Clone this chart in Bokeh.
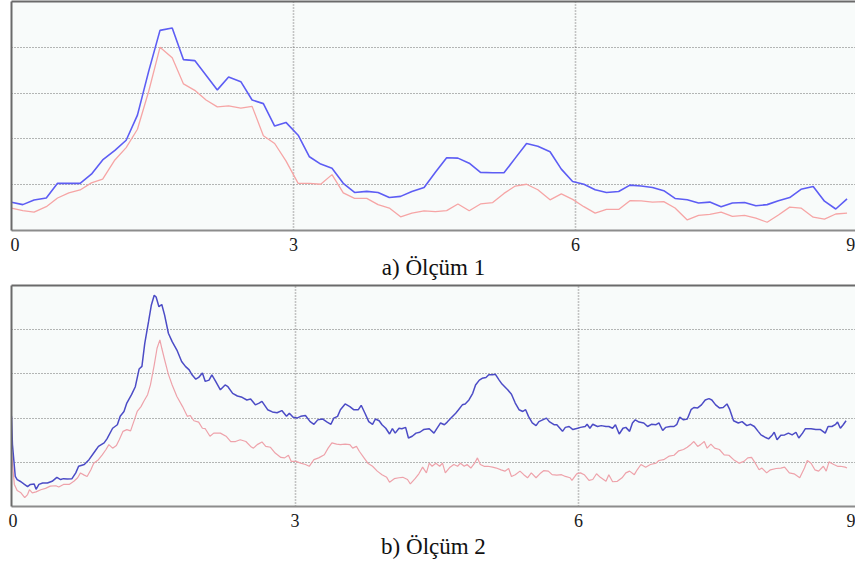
from bokeh.plotting import figure
from bokeh.layouts import column
from bokeh.models import Range1d, FixedTicker, LinearAxis
from bokeh.embed import file_html
from bokeh.resources import INLINE

# ---------------- data: panel a (Ölçüm 1) ----------------
t_a = [0.00, 0.12, 0.24, 0.37, 0.49, 0.61, 0.73, 0.85, 0.97, 1.10,
       1.22, 1.34, 1.46, 1.58, 1.71, 1.83, 1.95, 2.07, 2.19, 2.31,
       2.44, 2.56, 2.68, 2.80, 2.92, 3.05, 3.17, 3.29, 3.41, 3.53,
       3.65, 3.78, 3.90, 4.02, 4.14, 4.26, 4.39, 4.51, 4.63, 4.75,
       4.87, 4.99, 5.12, 5.24, 5.36, 5.48, 5.60, 5.73, 5.85, 5.97,
       6.09, 6.21, 6.33, 6.46, 6.58, 6.70, 6.82, 6.94, 7.06, 7.19,
       7.31, 7.43, 7.55, 7.67, 7.80, 7.92, 8.04, 8.16, 8.28, 8.40,
       8.53, 8.65, 8.77, 8.89]
blue_a = [0.615, 0.565, 0.667, 0.71, 1.03, 1.03, 1.03, 1.23, 1.54, 1.75,
          1.97, 2.52, 3.48, 4.37, 4.42, 3.73, 3.71, 3.39, 3.07, 3.35,
          3.25, 2.85, 2.77, 2.28, 2.36, 2.08, 1.61, 1.45, 1.36, 1.03,
          0.83, 0.855, 0.83, 0.72, 0.745, 0.85, 0.94, 1.27, 1.59, 1.58,
          1.47, 1.27, 1.26, 1.26, 1.58, 1.90, 1.84, 1.72, 1.34, 1.07,
          1.01, 0.89, 0.83, 0.85, 0.99, 0.97, 0.94, 0.87, 0.70, 0.67,
          0.60, 0.62, 0.52, 0.60, 0.61, 0.54, 0.565, 0.65, 0.72, 0.90,
          0.96, 0.64, 0.47, 0.69]
pink_a = [0.49, 0.435, 0.40, 0.52, 0.71, 0.82, 0.885, 1.04, 1.12, 1.54,
          1.81, 2.21, 3.04, 4.00, 3.77, 3.20, 3.06, 2.85, 2.70, 2.72,
          2.67, 2.71, 2.07, 1.90, 1.52, 1.03, 1.03, 1.01, 1.22, 0.82,
          0.70, 0.70, 0.565, 0.49, 0.30, 0.38, 0.43, 0.41, 0.435, 0.58,
          0.43, 0.58, 0.61, 0.81, 0.97, 1.01, 0.89, 0.67, 0.80, 0.68,
          0.52, 0.38, 0.46, 0.46, 0.65, 0.645, 0.62, 0.63, 0.49, 0.23,
          0.33, 0.35, 0.40, 0.31, 0.33, 0.27, 0.18, 0.34, 0.51, 0.49,
          0.29, 0.25, 0.36, 0.38]

# ---------------- data: panel b (Ölçüm 2) ----------------
t_blue_b = [0.0, 0.01, 0.04, 0.06, 0.10, 0.13, 0.17, 0.20, 0.24, 0.26,
            0.29, 0.33, 0.38, 0.43, 0.48, 0.52, 0.55, 0.59, 0.64, 0.68,
            0.71, 0.77, 0.82, 0.87, 0.92, 0.98, 1.01, 1.07, 1.12, 1.15,
            1.19, 1.22, 1.27, 1.31, 1.35, 1.38, 1.41, 1.45, 1.48, 1.51,
            1.53, 1.56, 1.59, 1.62, 1.66, 1.70, 1.75, 1.80, 1.84, 1.88,
            1.91, 1.95, 1.98, 2.02, 2.05, 2.09, 2.12, 2.16, 2.21,
            2.26, 2.29, 2.34, 2.39, 2.44, 2.49, 2.53, 2.58, 2.62, 2.65,
            2.71, 2.76, 2.81, 2.86, 2.91, 2.94, 2.98, 3.02, 3.06, 3.11,
            3.16, 3.20, 3.24, 3.29, 3.34, 3.38, 3.41, 3.45, 3.48, 3.53,
            3.58, 3.62, 3.67, 3.70, 3.74, 3.78, 3.82, 3.85, 3.89, 3.92,
            3.96, 4.00, 4.03, 4.06, 4.10, 4.13, 4.17, 4.20, 4.24, 4.28,
            4.32, 4.36, 4.42,
            4.47, 4.50, 4.54, 4.58, 4.61, 4.65, 4.70, 4.73, 4.77, 4.80,
            4.84, 4.88, 4.91, 4.95, 4.98, 5.02, 5.05, 5.09, 5.12, 5.16,
            5.19, 5.25, 5.29, 5.33, 5.37, 5.41, 5.44, 5.47, 5.51, 5.55,
            5.58, 5.62, 5.66, 5.69, 5.74, 5.77, 5.83, 5.86, 5.90, 5.94,
            5.99, 6.02, 6.07, 6.09, 6.12, 6.15, 6.20, 6.24, 6.29, 6.32,
            6.36, 6.39, 6.43, 6.47, 6.50, 6.54, 6.57, 6.60, 6.64,
            6.69, 6.73, 6.77, 6.82, 6.85, 6.89, 6.92, 6.97, 7.01, 7.04,
            7.07, 7.11, 7.15, 7.19, 7.22, 7.26, 7.30, 7.34, 7.38, 7.41,
            7.45, 7.49, 7.53, 7.57, 7.60, 7.64, 7.69, 7.73, 7.78, 7.82,
            7.86, 7.90, 7.93, 7.98, 8.01, 8.05, 8.07, 8.10, 8.14, 8.18,
            8.22, 8.26, 8.30, 8.33, 8.37, 8.40, 8.46, 8.51, 8.56, 8.61,
            8.64, 8.68, 8.72, 8.74, 8.77, 8.80, 8.83]
blue_b = [2.04, 1.40, 0.68, 0.61, 0.56, 0.51, 0.45, 0.50, 0.51, 0.39,
          0.50, 0.53, 0.53, 0.57, 0.66, 0.61, 0.63, 0.62, 0.63, 0.76,
          0.91, 0.95, 1.06, 1.21, 1.36, 1.44, 1.53, 1.77, 1.85, 2.04,
          2.15, 2.34, 2.53, 2.71, 3.11, 3.17, 3.69, 4.18, 4.56, 4.78,
          4.74, 4.52, 4.57, 4.33, 3.92, 3.73, 3.54, 3.28, 3.17, 3.09,
          2.98, 2.88, 2.92, 3.02, 2.83, 2.86, 2.98, 2.83, 2.64,
          2.75, 2.71, 2.56, 2.50, 2.47, 2.41, 2.43, 2.30, 2.34, 2.38,
          2.19, 2.14, 2.12, 2.17, 2.04, 2.11, 2.02, 2.00, 2.04, 2.06,
          1.92, 1.86, 1.96, 1.98, 1.91, 1.86, 2.00, 2.04, 2.19, 2.32,
          2.26, 2.19, 2.19, 2.29, 2.11, 1.92, 1.86, 1.98, 1.94, 1.85,
          1.77, 1.64, 1.76, 1.66, 1.77, 1.76, 1.79, 1.55, 1.59, 1.66,
          1.68, 1.74, 1.76,
          1.66, 1.76, 1.89, 1.85, 1.91, 2.00, 2.11, 2.19, 2.30, 2.32,
          2.41, 2.56, 2.75, 2.86, 2.90, 2.92, 2.98, 2.98, 2.99, 2.86,
          2.77, 2.64, 2.54, 2.34, 2.19, 2.15, 2.19, 2.04, 1.89, 1.83,
          1.92, 1.96, 2.00, 1.92, 1.85, 1.85, 1.70, 1.79, 1.81, 1.74,
          1.77, 1.79, 1.81, 1.86, 1.77, 1.86, 1.81, 1.83, 1.81, 1.81,
          1.77, 1.85, 1.64, 1.77, 1.79, 1.70, 1.89, 1.96, 1.91,
          1.89, 1.81, 1.86, 1.85, 1.89, 1.72, 1.79, 1.81, 1.81, 1.86,
          2.02, 1.96, 1.98, 2.19, 2.24, 2.23, 2.30, 2.41, 2.44, 2.41,
          2.30, 2.23, 2.24, 2.32, 2.19, 1.94, 1.89, 1.92, 1.83, 1.86,
          1.81, 1.70, 1.62, 1.56, 1.53, 1.62, 1.68, 1.51, 1.61, 1.62,
          1.66, 1.62, 1.68, 1.55, 1.66, 1.76, 1.76, 1.74, 1.74, 1.66,
          1.81, 1.81, 1.86, 1.91, 1.77, 1.85, 1.94]

t_pink_b = [0.0, 0.03, 0.06, 0.10, 0.14, 0.17, 0.19, 0.22, 0.26, 0.31,
            0.36, 0.41, 0.47, 0.50, 0.55, 0.61, 0.66, 0.70, 0.73, 0.77,
            0.80, 0.84, 0.87, 0.92, 0.96, 1.00, 1.03, 1.07, 1.11, 1.14,
            1.18, 1.22, 1.26, 1.30, 1.33, 1.37, 1.40, 1.44, 1.47, 1.51,
            1.54, 1.57, 1.59, 1.62, 1.66, 1.70, 1.75, 1.81, 1.86, 1.89,
            1.93, 1.98, 2.02, 2.05, 2.10, 2.14, 2.21,
            2.27, 2.32, 2.37, 2.42, 2.48, 2.53, 2.56, 2.60, 2.65, 2.69,
            2.74, 2.79, 2.85, 2.89, 2.93, 2.96, 3.01, 3.06, 3.11, 3.15,
            3.20, 3.25, 3.31, 3.35, 3.39, 3.44, 3.48, 3.53, 3.58, 3.61,
            3.65, 3.68, 3.73, 3.77, 3.82, 3.87, 3.92, 3.97, 4.00, 4.05,
            4.10, 4.14, 4.19, 4.22, 4.27, 4.31, 4.35, 4.39, 4.42,
            4.45, 4.49, 4.53, 4.56, 4.59, 4.64, 4.68, 4.72, 4.75, 4.79,
            4.82, 4.86, 4.90, 4.93, 4.96, 5.00, 5.04, 5.09, 5.13, 5.18,
            5.22, 5.26, 5.29, 5.33, 5.38, 5.42, 5.46, 5.50, 5.55, 5.59,
            5.63, 5.68, 5.72, 5.77, 5.82, 5.86, 5.91, 5.93, 5.98, 6.02,
            6.06, 6.11, 6.15, 6.19, 6.23, 6.29, 6.32, 6.36, 6.41, 6.46,
            6.50, 6.54, 6.59, 6.62, 6.66,
            6.71, 6.76, 6.82, 6.85, 6.90, 6.96, 7.01, 7.06, 7.11, 7.15,
            7.19, 7.22, 7.26, 7.29, 7.33, 7.36, 7.40, 7.44, 7.49, 7.54,
            7.59, 7.64, 7.70, 7.75, 7.79, 7.83, 7.87, 7.91, 7.94, 7.99,
            8.03, 8.09, 8.14, 8.18, 8.23, 8.28, 8.34, 8.39, 8.42, 8.46,
            8.50, 8.54, 8.59, 8.62, 8.65, 8.70, 8.74, 8.77, 8.82, 8.84]
pink_b = [1.21, 0.50, 0.36, 0.31, 0.20, 0.27, 0.38, 0.31, 0.33, 0.38,
          0.41, 0.46, 0.47, 0.44, 0.50, 0.50, 0.57, 0.65, 0.76, 0.71,
          0.68, 0.83, 0.98, 1.06, 1.17, 1.29, 1.40, 1.32, 1.38, 1.51,
          1.70, 1.74, 1.71, 1.96, 2.15, 2.26, 2.38, 2.53, 2.75, 3.20,
          3.58, 3.77, 3.58, 3.32, 2.99, 2.75, 2.49, 2.26, 2.04, 2.06,
          1.94, 1.91, 1.77, 1.76, 1.59, 1.66, 1.66,
          1.59, 1.47, 1.47, 1.51, 1.47, 1.36, 1.32, 1.40, 1.46, 1.36,
          1.34, 1.21, 1.11, 1.10, 1.16, 1.02, 1.02, 0.98, 0.95, 0.91,
          1.06, 1.10, 1.17, 1.32, 1.44, 1.41, 1.40, 1.41, 1.40, 1.32,
          1.36, 1.25, 1.10, 0.98, 0.91, 0.80, 0.72, 0.66, 0.55, 0.63,
          0.65, 0.66, 0.61, 0.51, 0.63, 0.74, 0.89, 0.76, 0.98,
          0.91, 0.98, 0.91, 0.98, 0.76, 0.89, 0.95, 0.91, 0.98, 0.91,
          0.95, 0.87, 0.98, 1.10, 0.95, 0.91, 0.91, 0.89, 0.87, 0.83,
          0.80, 0.86, 0.68, 0.72, 0.80, 0.72, 0.65, 0.76, 0.65, 0.74,
          0.81, 0.80, 0.72, 0.71, 0.72, 0.68, 0.65, 0.59, 0.74, 0.76,
          0.72, 0.59, 0.61, 0.74, 0.66, 0.57, 0.72, 0.56, 0.57, 0.65,
          0.76, 0.80, 0.72, 0.83, 0.95,
          0.89, 0.95, 0.98, 1.04, 1.06, 1.14, 1.16, 1.26, 1.29, 1.34,
          1.41, 1.47, 1.36, 1.40, 1.47, 1.32, 1.41, 1.32, 1.29, 1.17,
          1.16, 1.06, 0.98, 1.02, 1.10, 1.11, 0.98, 0.83, 0.87, 0.76,
          0.83, 0.86, 0.87, 0.89, 0.76, 0.74, 0.65, 0.87, 1.04, 0.98,
          0.83, 0.80, 0.91, 0.80, 1.01, 0.95, 0.91, 0.91, 0.89, 0.87]

tick_labels = ["0", "3", "6", "9"]
y_grid = [1, 2, 3, 4]
v_grid = [3, 6]
captions = ["a) Ölçüm 1", "b) Ölçüm 2"]

SERIF = "Liberation Serif"


def make_panel(height, b_top, b_bottom, x_end, caption, tick_pos, label_standoff,
               cap_standoff, t_blue, v_blue, t_pink, v_pink,
               blue_col, pink_col, blue_w, pink_w):
    p = figure(width=855, height=height, output_backend="svg", toolbar_location=None,
               x_range=Range1d(0, x_end), y_range=Range1d(0, 5),
               min_border_left=11, min_border_right=0,
               min_border_top=b_top, min_border_bottom=b_bottom)
    p.background_fill_color = "#f8fbfa"
    p.border_fill_color = "white"
    p.outline_line_color = None

    # bottom axis: tick labels 0 3 6 9 (edge labels pulled inside the frame)
    ax = p.xaxis[0]
    ax.ticker = FixedTicker(ticks=tick_pos)
    ax.major_label_overrides = {pos: lab for pos, lab in zip(tick_pos, tick_labels)}
    ax.axis_line_color = "#8c8c8c"
    ax.axis_line_width = 2
    ax.major_tick_line_color = None
    ax.minor_tick_line_color = None
    ax.major_tick_out = 0
    ax.major_tick_in = 0
    ax.major_label_standoff = label_standoff
    ax.major_label_text_font = SERIF
    ax.major_label_text_font_size = "18px"
    ax.major_label_text_color = "#1a1a1a"
    ax.axis_label = caption
    ax.axis_label_standoff = cap_standoff
    ax.axis_label_text_font = SERIF
    ax.axis_label_text_font_size = "23px"
    ax.axis_label_text_font_style = "normal"
    ax.axis_label_text_color = "#111111"

    # left axis: only a line
    ay = p.yaxis[0]
    ay.ticker = FixedTicker(ticks=[])
    ay.axis_line_color = "#6a6a6a"
    ay.axis_line_width = 2
    ay.major_tick_line_color = None
    ay.minor_tick_line_color = None
    ay.major_label_text_font_size = "0px"
    ay.major_label_standoff = 0
    ay.major_tick_out = 0

    top = LinearAxis(ticker=FixedTicker(ticks=[]), axis_line_color="#6a6a6a",
                     axis_line_width=2, major_tick_line_color=None,
                     minor_tick_line_color=None, major_label_text_font_size="0px",
                     major_label_standoff=0, major_tick_out=0)
    p.add_layout(top, "above")

    p.ygrid.ticker = FixedTicker(ticks=y_grid)
    p.ygrid.grid_line_color = "#6e6e6e"
    p.ygrid.grid_line_dash = "1 2"
    p.ygrid.grid_line_width = 1
    p.xgrid.ticker = FixedTicker(ticks=v_grid)
    p.xgrid.grid_line_color = "#8e8e8e"
    p.xgrid.grid_line_dash = "1 2"
    p.xgrid.grid_line_width = 1.6

    p.line(t_pink, v_pink, line_color=pink_col, line_width=pink_w)
    p.line(t_blue, v_blue, line_color=blue_col, line_width=blue_w)
    return p


pa = make_panel(283, 1, 53, 8.98, captions[0], [0.037, 3, 6, 8.93], 7, 1,
                t_a, blue_a, t_a, pink_a, "#5d5df4", "#f6a5a5", 1.6, 1.3)
pb = make_panel(284, 2, 61, 8.93, captions[1], [0.015, 3, 6, 8.92], 7, 4,
                t_blue_b, blue_b, t_pink_b, pink_b, "#4c4cc6", "#eea2aa", 1.5, 1.2)

layout = column(pa, pb, spacing=0)
open("out.html", "w").write(file_html(layout, INLINE))
